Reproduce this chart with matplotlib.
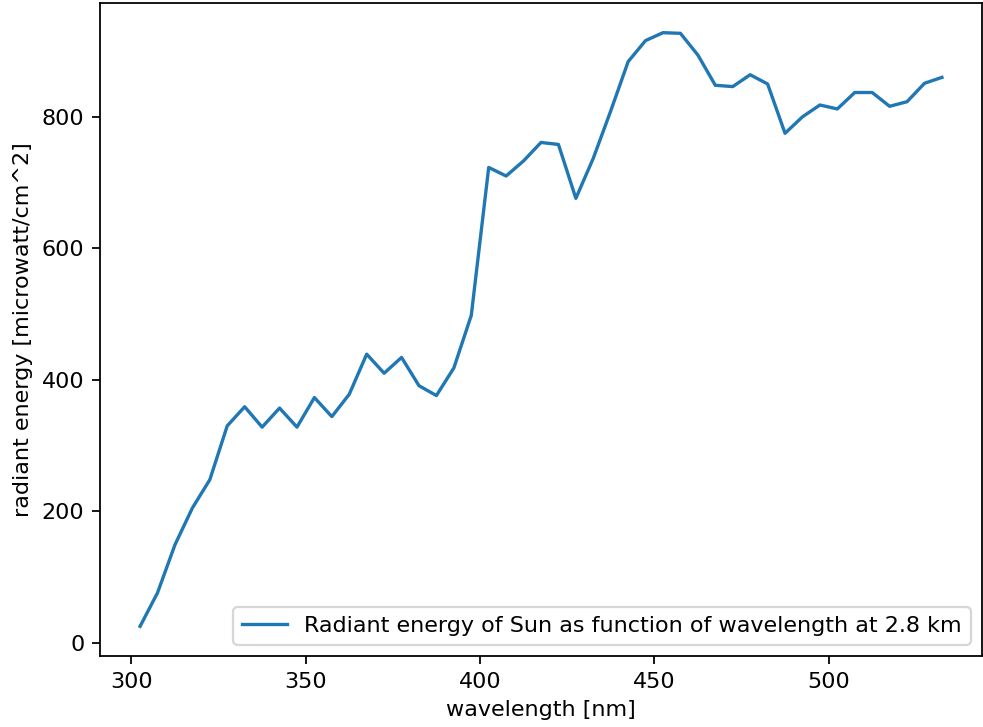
import matplotlib
matplotlib.use("Agg")
import matplotlib.pyplot as plt

wavelength = [302.5, 307.5, 312.5, 317.5, 322.5, 327.5, 332.5, 337.5, 342.5, 347.5,
              352.5, 357.5, 362.5, 367.5, 372.5, 377.5, 382.5, 387.5, 392.5, 397.5,
              402.5, 407.5, 412.5, 417.5, 422.5, 427.5, 432.5, 437.5, 442.5, 447.5,
              452.5, 457.5, 462.5, 467.5, 472.5, 477.5, 482.5, 487.5, 492.5, 497.5,
              502.5, 507.5, 512.5, 517.5, 522.5, 527.5, 532.5]
energy = [25, 76, 149, 205, 248, 330, 359, 328, 357, 328,
          373, 344, 378, 439, 410, 434, 391, 376, 418, 498,
          723, 710, 733, 761, 758, 676, 737, 809, 884, 916,
          928, 927, 894, 848, 846, 864, 850, 775, 800, 818,
          812, 837, 837, 816, 823, 851, 860]

dpi = 160
fig = plt.figure(figsize=(983 / dpi, 727 / dpi), dpi=dpi)
ax = fig.add_subplot(111)
fig.subplots_adjust(left=100 / 983, right=982 / 983, top=1 - 3 / 727, bottom=1 - 656 / 727)

ax.plot(wavelength, energy, label='Radiant energy of Sun as function of wavelength at 2.8 km')
ax.set_xlabel('wavelength [nm]')
ax.set_ylabel('radiant energy [microwatt/cm^2]')
ax.legend(loc='lower right')

fig.savefig('out.png', dpi=dpi)
